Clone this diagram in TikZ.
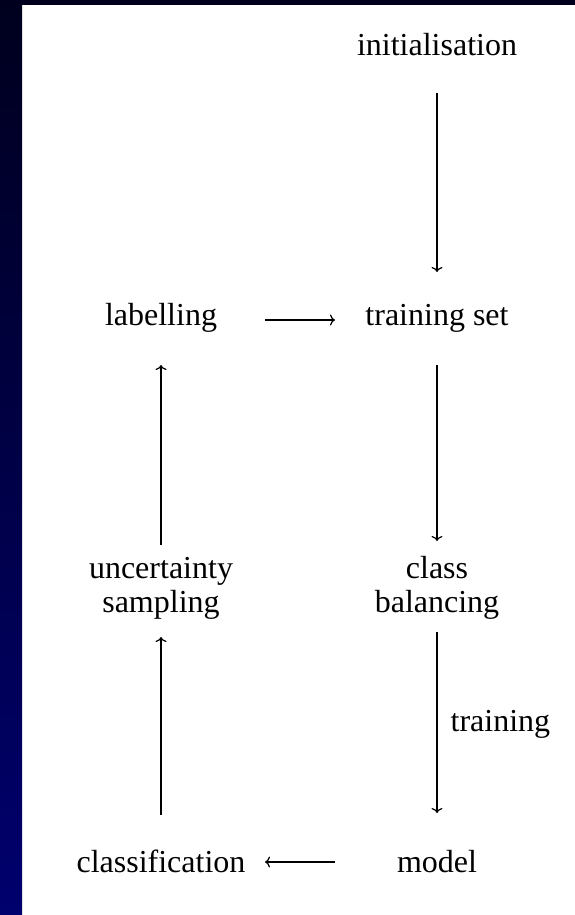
\documentclass[tikz,border=0pt]{standalone}
\usepackage{fontspec}
\setmainfont{Liberation Serif}
\usetikzlibrary{arrows.meta}
\definecolor{navytop}{RGB}{0,0,30}
\definecolor{navybot}{RGB}{0,0,110}
\begin{document}
\begin{tikzpicture}[x=1pt,y=-1pt,
  every node/.style={font=\fontsize{32}{34}\selectfont, inner sep=0pt},
  txt/.style={anchor=base, align=center},
  arr/.style={-{Computer Modern Rightarrow[length=5pt,width=11pt]}, line width=1.2pt}]
\useasboundingbox (0,0) rectangle (575,915);
\fill[white] (0,0) rectangle (575,915);
\shade[top color=navytop, bottom color=navybot] (0,0) rectangle (22,915);
\fill[navytop] (0,0) rectangle (575,5);

\node[txt] (init) at (437,56) {initialisation};
\node[txt] (ts)   at (437,325) {training set};
\node[txt] (lab)  at (161,325) {labelling};
\node[txt] (cb)   at (437,612) {class\\balancing};
\node[txt] (us)   at (161,612) {uncertainty\\sampling};
\node[txt] (cls)  at (161,872) {classification};
\node[txt] (mod)  at (437,872) {model};

\draw[arr] ([yshift=-37pt]init.base) -- ([yshift=53pt]ts.base);
\draw[arr] ([shift={(104pt,5pt)}]lab.base) -- ([shift={(-102pt,5pt)}]ts.base);
\draw[arr] ([yshift=-40pt]ts.base) -- ([yshift=71pt]cb.base);
\draw[arr] ([yshift=-20pt]cb.base) -- node[anchor=base west, xshift=13pt, yshift=-9pt] {training} ([yshift=59pt]mod.base);
\draw[arr] ([shift={(-102pt,10pt)}]mod.base) -- ([shift={(104pt,10pt)}]cls.base);
\draw[arr] ([yshift=57pt]cls.base) -- ([yshift=-25pt]us.base);
\draw[arr] ([yshift=67pt]us.base) -- ([yshift=-40pt]lab.base);
\end{tikzpicture}
\end{document}
